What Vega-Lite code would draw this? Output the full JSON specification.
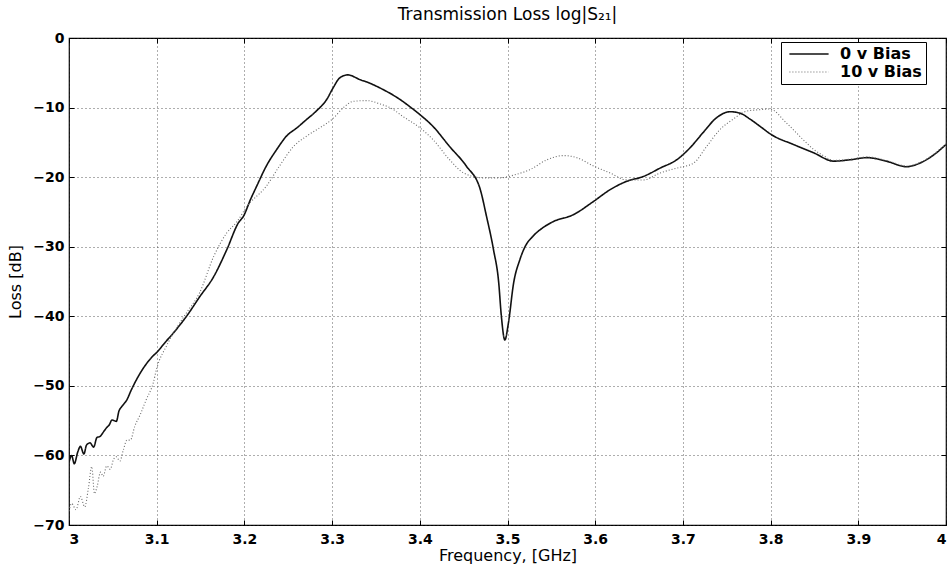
{
  "$schema": "https://vega.github.io/schema/vega-lite/v6.json",
  "width": 877,
  "height": 487,
  "autosize": {"type": "none"},
  "padding": {"left": 69, "top": 38, "right": 2, "bottom": 39},
  "background": "white",
  "config": {
    "font": "DejaVu Sans",
    "view": {"stroke": "black", "strokeWidth": 1.2},
    "axis": {
      "domain": false,
      "grid": true,
      "gridColor": "#333",
      "gridDash": [1, 3],
      "gridWidth": 0.8,
      "gridOpacity": 1,
      "ticks": true,
      "tickColor": "black",
      "tickSize": -5,
      "tickWidth": 1,
      "labelFont": "DejaVu Sans",
      "labelFontWeight": "bold",
      "labelFontSize": 14,
      "labelColor": "black",
      "titleFont": "DejaVu Sans",
      "titleFontWeight": "normal",
      "titleFontSize": 16,
      "titleColor": "black"
    }
  },
  "title": {
    "text": "Transmission Loss log|S₂₁|",
    "fontSize": 17,
    "fontWeight": "normal",
    "font": "DejaVu Sans",
    "color": "black",
    "anchor": "middle",
    "offset": 7
  },
  "data": {
    "values": [
      {"f": 3.000, "loss": -61.0, "s": "0 v Bias"},
      {"f": 3.003, "loss": -60.0, "s": "0 v Bias"},
      {"f": 3.006, "loss": -61.2, "s": "0 v Bias"},
      {"f": 3.010, "loss": -59.5, "s": "0 v Bias"},
      {"f": 3.013, "loss": -58.7, "s": "0 v Bias"},
      {"f": 3.017, "loss": -59.8, "s": "0 v Bias"},
      {"f": 3.020, "loss": -58.5, "s": "0 v Bias"},
      {"f": 3.024, "loss": -58.2, "s": "0 v Bias"},
      {"f": 3.028, "loss": -58.8, "s": "0 v Bias"},
      {"f": 3.032, "loss": -57.4, "s": "0 v Bias"},
      {"f": 3.035, "loss": -57.3, "s": "0 v Bias"},
      {"f": 3.040, "loss": -56.5, "s": "0 v Bias"},
      {"f": 3.043, "loss": -56.0, "s": "0 v Bias"},
      {"f": 3.046, "loss": -55.6, "s": "0 v Bias"},
      {"f": 3.049, "loss": -54.9, "s": "0 v Bias"},
      {"f": 3.054, "loss": -55.1, "s": "0 v Bias"},
      {"f": 3.057, "loss": -53.6, "s": "0 v Bias"},
      {"f": 3.060, "loss": -53.0, "s": "0 v Bias"},
      {"f": 3.066, "loss": -52.0, "s": "0 v Bias"},
      {"f": 3.071, "loss": -50.6, "s": "0 v Bias"},
      {"f": 3.077, "loss": -49.1, "s": "0 v Bias"},
      {"f": 3.083, "loss": -47.8, "s": "0 v Bias"},
      {"f": 3.089, "loss": -46.7, "s": "0 v Bias"},
      {"f": 3.095, "loss": -45.8, "s": "0 v Bias"},
      {"f": 3.100, "loss": -45.2, "s": "0 v Bias"},
      {"f": 3.110, "loss": -43.7, "s": "0 v Bias"},
      {"f": 3.119, "loss": -42.4, "s": "0 v Bias"},
      {"f": 3.134, "loss": -40.0, "s": "0 v Bias"},
      {"f": 3.149, "loss": -37.2, "s": "0 v Bias"},
      {"f": 3.165, "loss": -34.3, "s": "0 v Bias"},
      {"f": 3.180, "loss": -30.4, "s": "0 v Bias"},
      {"f": 3.193, "loss": -26.6, "s": "0 v Bias"},
      {"f": 3.199, "loss": -25.6, "s": "0 v Bias"},
      {"f": 3.207, "loss": -23.2, "s": "0 v Bias"},
      {"f": 3.214, "loss": -21.3, "s": "0 v Bias"},
      {"f": 3.225, "loss": -18.4, "s": "0 v Bias"},
      {"f": 3.237, "loss": -16.0, "s": "0 v Bias"},
      {"f": 3.248, "loss": -14.1, "s": "0 v Bias"},
      {"f": 3.260, "loss": -12.9, "s": "0 v Bias"},
      {"f": 3.271, "loss": -11.7, "s": "0 v Bias"},
      {"f": 3.282, "loss": -10.5, "s": "0 v Bias"},
      {"f": 3.294, "loss": -8.8, "s": "0 v Bias"},
      {"f": 3.301, "loss": -7.2, "s": "0 v Bias"},
      {"f": 3.309, "loss": -5.7, "s": "0 v Bias"},
      {"f": 3.318, "loss": -5.3, "s": "0 v Bias"},
      {"f": 3.332, "loss": -6.0, "s": "0 v Bias"},
      {"f": 3.339, "loss": -6.3, "s": "0 v Bias"},
      {"f": 3.358, "loss": -7.4, "s": "0 v Bias"},
      {"f": 3.377, "loss": -8.8, "s": "0 v Bias"},
      {"f": 3.390, "loss": -10.0, "s": "0 v Bias"},
      {"f": 3.400, "loss": -11.0, "s": "0 v Bias"},
      {"f": 3.415, "loss": -12.7, "s": "0 v Bias"},
      {"f": 3.434, "loss": -15.6, "s": "0 v Bias"},
      {"f": 3.453, "loss": -18.4, "s": "0 v Bias"},
      {"f": 3.469, "loss": -21.8, "s": "0 v Bias"},
      {"f": 3.476, "loss": -25.6, "s": "0 v Bias"},
      {"f": 3.484, "loss": -30.4, "s": "0 v Bias"},
      {"f": 3.490, "loss": -35.2, "s": "0 v Bias"},
      {"f": 3.493, "loss": -40.0, "s": "0 v Bias"},
      {"f": 3.497, "loss": -43.4, "s": "0 v Bias"},
      {"f": 3.501, "loss": -41.0, "s": "0 v Bias"},
      {"f": 3.507, "loss": -35.2, "s": "0 v Bias"},
      {"f": 3.514, "loss": -31.9, "s": "0 v Bias"},
      {"f": 3.520, "loss": -30.0, "s": "0 v Bias"},
      {"f": 3.529, "loss": -28.5, "s": "0 v Bias"},
      {"f": 3.540, "loss": -27.3, "s": "0 v Bias"},
      {"f": 3.552, "loss": -26.4, "s": "0 v Bias"},
      {"f": 3.575, "loss": -25.4, "s": "0 v Bias"},
      {"f": 3.598, "loss": -23.5, "s": "0 v Bias"},
      {"f": 3.617, "loss": -21.8, "s": "0 v Bias"},
      {"f": 3.636, "loss": -20.6, "s": "0 v Bias"},
      {"f": 3.655, "loss": -19.9, "s": "0 v Bias"},
      {"f": 3.674, "loss": -18.7, "s": "0 v Bias"},
      {"f": 3.693, "loss": -17.5, "s": "0 v Bias"},
      {"f": 3.708, "loss": -15.8, "s": "0 v Bias"},
      {"f": 3.723, "loss": -13.6, "s": "0 v Bias"},
      {"f": 3.738, "loss": -11.5, "s": "0 v Bias"},
      {"f": 3.754, "loss": -10.6, "s": "0 v Bias"},
      {"f": 3.765, "loss": -10.8, "s": "0 v Bias"},
      {"f": 3.777, "loss": -11.7, "s": "0 v Bias"},
      {"f": 3.788, "loss": -12.7, "s": "0 v Bias"},
      {"f": 3.801, "loss": -13.9, "s": "0 v Bias"},
      {"f": 3.826, "loss": -15.3, "s": "0 v Bias"},
      {"f": 3.849, "loss": -16.5, "s": "0 v Bias"},
      {"f": 3.872, "loss": -17.7, "s": "0 v Bias"},
      {"f": 3.891, "loss": -17.5, "s": "0 v Bias"},
      {"f": 3.910, "loss": -17.2, "s": "0 v Bias"},
      {"f": 3.932, "loss": -17.7, "s": "0 v Bias"},
      {"f": 3.955, "loss": -18.5, "s": "0 v Bias"},
      {"f": 3.970, "loss": -18.0, "s": "0 v Bias"},
      {"f": 3.986, "loss": -16.8, "s": "0 v Bias"},
      {"f": 4.000, "loss": -15.3, "s": "0 v Bias"},
      {"f": 3.000, "loss": -68.0, "s": "10 v Bias"},
      {"f": 3.003, "loss": -66.9, "s": "10 v Bias"},
      {"f": 3.008, "loss": -67.8, "s": "10 v Bias"},
      {"f": 3.013, "loss": -65.9, "s": "10 v Bias"},
      {"f": 3.018, "loss": -67.4, "s": "10 v Bias"},
      {"f": 3.022, "loss": -64.8, "s": "10 v Bias"},
      {"f": 3.026, "loss": -61.6, "s": "10 v Bias"},
      {"f": 3.029, "loss": -65.5, "s": "10 v Bias"},
      {"f": 3.032, "loss": -64.5, "s": "10 v Bias"},
      {"f": 3.036, "loss": -62.4, "s": "10 v Bias"},
      {"f": 3.039, "loss": -63.0, "s": "10 v Bias"},
      {"f": 3.043, "loss": -61.5, "s": "10 v Bias"},
      {"f": 3.047, "loss": -62.0, "s": "10 v Bias"},
      {"f": 3.051, "loss": -60.5, "s": "10 v Bias"},
      {"f": 3.054, "loss": -60.2, "s": "10 v Bias"},
      {"f": 3.058, "loss": -60.8, "s": "10 v Bias"},
      {"f": 3.062, "loss": -59.2, "s": "10 v Bias"},
      {"f": 3.066, "loss": -57.8, "s": "10 v Bias"},
      {"f": 3.070, "loss": -57.8, "s": "10 v Bias"},
      {"f": 3.075, "loss": -55.8, "s": "10 v Bias"},
      {"f": 3.081, "loss": -54.2, "s": "10 v Bias"},
      {"f": 3.088, "loss": -52.0, "s": "10 v Bias"},
      {"f": 3.096, "loss": -49.6, "s": "10 v Bias"},
      {"f": 3.100, "loss": -47.5, "s": "10 v Bias"},
      {"f": 3.111, "loss": -44.3, "s": "10 v Bias"},
      {"f": 3.122, "loss": -41.8, "s": "10 v Bias"},
      {"f": 3.134, "loss": -39.5, "s": "10 v Bias"},
      {"f": 3.149, "loss": -36.6, "s": "10 v Bias"},
      {"f": 3.165, "loss": -31.4, "s": "10 v Bias"},
      {"f": 3.180, "loss": -28.0, "s": "10 v Bias"},
      {"f": 3.191, "loss": -26.5, "s": "10 v Bias"},
      {"f": 3.203, "loss": -24.2, "s": "10 v Bias"},
      {"f": 3.225, "loss": -21.3, "s": "10 v Bias"},
      {"f": 3.240, "loss": -18.4, "s": "10 v Bias"},
      {"f": 3.256, "loss": -15.6, "s": "10 v Bias"},
      {"f": 3.271, "loss": -14.1, "s": "10 v Bias"},
      {"f": 3.286, "loss": -12.9, "s": "10 v Bias"},
      {"f": 3.300, "loss": -11.7, "s": "10 v Bias"},
      {"f": 3.313, "loss": -10.0, "s": "10 v Bias"},
      {"f": 3.324, "loss": -9.1, "s": "10 v Bias"},
      {"f": 3.340, "loss": -9.0, "s": "10 v Bias"},
      {"f": 3.355, "loss": -9.5, "s": "10 v Bias"},
      {"f": 3.366, "loss": -10.0, "s": "10 v Bias"},
      {"f": 3.381, "loss": -11.3, "s": "10 v Bias"},
      {"f": 3.400, "loss": -12.9, "s": "10 v Bias"},
      {"f": 3.415, "loss": -14.6, "s": "10 v Bias"},
      {"f": 3.434, "loss": -17.5, "s": "10 v Bias"},
      {"f": 3.450, "loss": -19.4, "s": "10 v Bias"},
      {"f": 3.472, "loss": -20.1, "s": "10 v Bias"},
      {"f": 3.491, "loss": -20.1, "s": "10 v Bias"},
      {"f": 3.510, "loss": -19.6, "s": "10 v Bias"},
      {"f": 3.526, "loss": -18.9, "s": "10 v Bias"},
      {"f": 3.545, "loss": -17.5, "s": "10 v Bias"},
      {"f": 3.564, "loss": -16.9, "s": "10 v Bias"},
      {"f": 3.579, "loss": -17.2, "s": "10 v Bias"},
      {"f": 3.598, "loss": -18.4, "s": "10 v Bias"},
      {"f": 3.617, "loss": -19.4, "s": "10 v Bias"},
      {"f": 3.636, "loss": -20.4, "s": "10 v Bias"},
      {"f": 3.655, "loss": -20.4, "s": "10 v Bias"},
      {"f": 3.674, "loss": -19.4, "s": "10 v Bias"},
      {"f": 3.693, "loss": -18.7, "s": "10 v Bias"},
      {"f": 3.712, "loss": -18.0, "s": "10 v Bias"},
      {"f": 3.727, "loss": -15.6, "s": "10 v Bias"},
      {"f": 3.742, "loss": -13.2, "s": "10 v Bias"},
      {"f": 3.757, "loss": -11.7, "s": "10 v Bias"},
      {"f": 3.773, "loss": -10.5, "s": "10 v Bias"},
      {"f": 3.788, "loss": -10.3, "s": "10 v Bias"},
      {"f": 3.799, "loss": -10.2, "s": "10 v Bias"},
      {"f": 3.818, "loss": -12.2, "s": "10 v Bias"},
      {"f": 3.837, "loss": -14.6, "s": "10 v Bias"},
      {"f": 3.849, "loss": -16.0, "s": "10 v Bias"},
      {"f": 3.860, "loss": -16.9, "s": "10 v Bias"},
      {"f": 3.872, "loss": -17.6, "s": "10 v Bias"},
      {"f": 3.891, "loss": -17.4, "s": "10 v Bias"},
      {"f": 3.910, "loss": -17.1, "s": "10 v Bias"},
      {"f": 3.932, "loss": -17.6, "s": "10 v Bias"},
      {"f": 3.955, "loss": -18.4, "s": "10 v Bias"},
      {"f": 3.970, "loss": -17.9, "s": "10 v Bias"},
      {"f": 3.986, "loss": -16.7, "s": "10 v Bias"},
      {"f": 4.000, "loss": -15.2, "s": "10 v Bias"}
    ]
  },
  "layer": [
    {
      "mark": {"type": "line", "interpolate": "monotone", "clip": true},
      "encoding": {
        "x": {
          "field": "f",
          "type": "quantitative",
          "scale": {"domain": [3, 4], "nice": false, "zero": false},
          "axis": {
            "orient": "bottom",
            "title": "Frequency, [GHz]",
            "values": [3, 3.1, 3.2, 3.3, 3.4, 3.5, 3.6, 3.7, 3.8, 3.9, 4],
            "format": "~g",
            "labelPadding": 12,
            "titlePadding": 1
          }
        },
        "y": {
          "field": "loss",
          "type": "quantitative",
          "scale": {"domain": [-70, 0], "nice": false, "zero": false},
          "axis": {
            "orient": "left",
            "title": "Loss [dB]",
            "values": [-70, -60, -50, -40, -30, -20, -10, 0],
            "format": "d",
            "labelPadding": 10,
            "titlePadding": 9
          }
        },
        "color": {
          "field": "s",
          "type": "nominal",
          "scale": {"domain": ["0 v Bias", "10 v Bias"], "range": ["#111111", "#6a6a6a"]},
          "legend": {
            "title": null,
            "orient": "none",
            "legendX": 712,
            "legendY": 4,
            "symbolType": "M-2.8,0H2.8",
            "symbolSize": 196,
            "symbolStrokeWidth": 1,
            "symbolOffset": 16,
            "labelFontSize": 16,
            "labelFontWeight": "bold",
            "labelFont": "DejaVu Sans",
            "labelColor": "black",
            "labelOffset": 23,
            "strokeColor": "black",
            "fillColor": "white",
            "padding": 4,
            "rowPadding": 2,
            "cornerRadius": 0
          }
        },
        "strokeDash": {
          "field": "s",
          "type": "nominal",
          "scale": {"domain": ["0 v Bias", "10 v Bias"], "range": [[1, 0], [1, 2]]},
          "legend": null
        },
        "strokeWidth": {
          "field": "s",
          "type": "nominal",
          "scale": {"domain": ["0 v Bias", "10 v Bias"], "range": [1.6, 1.1]},
          "legend": null
        }
      }
    },
    {
      "mark": {"type": "point", "opacity": 0},
      "encoding": {
        "x": {
          "field": "f",
          "type": "quantitative",
          "scale": {"domain": [3, 4], "nice": false, "zero": false},
          "axis": {
            "orient": "top",
            "title": null,
            "labels": false,
            "grid": false,
            "values": [3, 3.1, 3.2, 3.3, 3.4, 3.5, 3.6, 3.7, 3.8, 3.9, 4]
          }
        },
        "y": {
          "field": "loss",
          "type": "quantitative",
          "scale": {"domain": [-70, 0], "nice": false, "zero": false},
          "axis": {
            "orient": "right",
            "title": null,
            "labels": false,
            "grid": false,
            "values": [-70, -60, -50, -40, -30, -20, -10, 0]
          }
        }
      }
    }
  ],
  "resolve": {"axis": {"x": "independent", "y": "independent"}}
}
